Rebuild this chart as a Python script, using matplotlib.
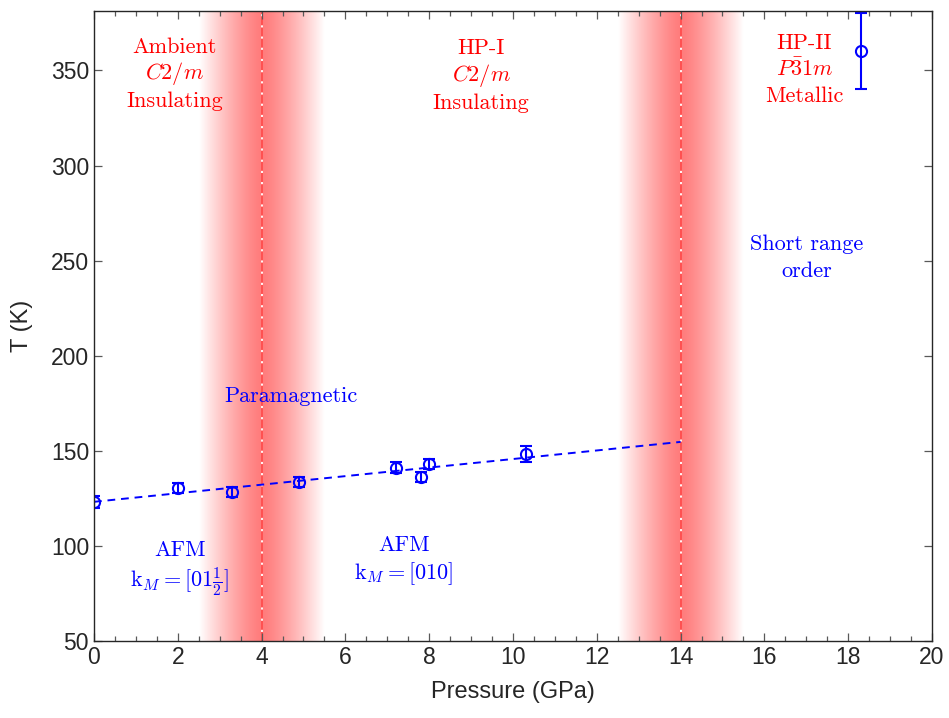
import numpy as np
import matplotlib
matplotlib.use('Agg')
import matplotlib.pyplot as plt
from matplotlib.ticker import MultipleLocator
from matplotlib import font_manager

# ---------------- data ----------------
pressure = [0.0, 2.0, 3.3, 4.9, 7.2, 7.8, 8.0, 10.3]
temperature = [123.2, 130.3, 128.5, 133.4, 141.1, 136.1, 143.1, 148.3]
temp_err = [3.0, 2.7, 2.6, 2.6, 2.8, 2.6, 2.6, 4.2]

hp2_pressure = [18.3]
hp2_temp = [360.0]
hp2_err = [20.0]

fit_pressure = [0.0, 14.0]
fit_temp = [123.2, 154.7]

transitions = [4.0, 14.0]
band_halfwidth = 1.5

x_ticks = [0, 2, 4, 6, 8, 10, 12, 14, 16, 18, 20]
y_ticks = [50, 100, 150, 200, 250, 300, 350]

# ---------------- style ----------------
plt.rcParams['mathtext.fontset'] = 'cm'
names = {f.name for f in font_manager.fontManager.ttflist}
tick_font = 'Liberation Sans Narrow' if 'Liberation Sans Narrow' in names else 'Liberation Sans'
plt.rcParams['font.family'] = [tick_font, 'DejaVu Sans']

fig = plt.figure(figsize=(9.49, 7.18), dpi=100)
ax = fig.add_axes([0.0990, 0.1072, 0.8831, 0.8768])
ylim = (50, 381)
ax.set_xlim(0, 20)
ax.set_ylim(*ylim)

# gradient bands
nx = 400
for xc in transitions:
    xs = np.linspace(-band_halfwidth, band_halfwidth, nx)
    a = 0.52 * (1 - (np.abs(xs) / band_halfwidth) ** 1.3)
    a = np.clip(a, 0, 1)
    img = np.zeros((1, nx, 4))
    img[..., 0] = 1.0
    img[..., 3] = a
    ax.imshow(img, extent=[xc - band_halfwidth, xc + band_halfwidth, ylim[0], ylim[1]],
              aspect='auto', interpolation='bilinear', zorder=0.5)
    ax.axvline(xc, color='white', lw=1.3, zorder=0.6)
    ax.axvline(xc, color=(1, 0.25, 0.25), lw=1.3, dashes=(5, 1.2), zorder=0.7)

# fit line
ax.plot(fit_pressure, fit_temp, color='blue', lw=1.4, dashes=(4, 3), zorder=2)

# data
err_kw = dict(fmt='o', mfc='none', mec='blue', ecolor='blue', color='blue', ms=8,
              mew=1.5, elinewidth=1.5, capsize=4.5, capthick=1.5, zorder=3)
ax.errorbar(pressure, temperature, yerr=temp_err, **err_kw)
ax.errorbar(hp2_pressure, hp2_temp, yerr=hp2_err, **err_kw)

# annotations
red = (1, 0, 0)
blue = (0, 0, 1)
fs = 16
def txt(x, y, s, c, math=False):
    kw = dict(ha='center', va='center', color=c, fontsize=fs, zorder=4)
    if not math:
        kw['fontfamily'] = 'cmr10'
    ax.text(x, y, s, **kw)

txt(1.93, 362.3, 'Ambient', red)
txt(1.93, 348.4, r'$C2/m$', red, True)
txt(1.93, 334.0, 'Insulating', red)

txt(9.24, 361.8, 'HP-I', red)
txt(9.24, 347.5, r'$C2/m$', red, True)
txt(9.24, 333.0, 'Insulating', red)

txt(16.95, 364.5, 'HP-II', red)
txt(16.95, 350.3, r'$P\bar{3}1m$', red, True)
txt(16.95, 336.3, 'Metallic', red)

txt(17.0, 258.8, 'Short range', blue)
txt(17.0, 244.6, 'order', blue)

txt(4.7, 178.8, 'Paramagnetic', blue)

txt(2.05, 97.8, 'AFM', blue)
txt(2.05, 81.5, r'$\mathrm{k}_M = [01\frac{1}{2}]$', blue, True)

txt(7.4, 100.3, 'AFM', blue)
txt(7.4, 85.3, r'$\mathrm{k}_M = [010]$', blue, True)

# axes styling
spine_c = (0.15, 0.15, 0.15)
for s in ax.spines.values():
    s.set_color(spine_c)
    s.set_linewidth(1.0)
    s.set_zorder(5)
ax.set_xticks(x_ticks)
ax.set_yticks(y_ticks)
ax.xaxis.set_minor_locator(MultipleLocator(0.5))
ax.tick_params(which='both', direction='in', top=True, right=True, color=(0.35, 0.35, 0.35),
               labelcolor=spine_c, labelsize=16.5, width=0.9)
ax.tick_params(which='major', length=6)
ax.tick_params(which='minor', length=3.5)
ax.tick_params(axis='y', which='minor', left=False, right=False)

ax.set_xlabel('Pressure (GPa)', fontsize=17, color=spine_c, labelpad=9)
ax.set_ylabel('T (K)', fontsize=17, color=spine_c, labelpad=13)

fig.savefig('out.png', dpi=100)
